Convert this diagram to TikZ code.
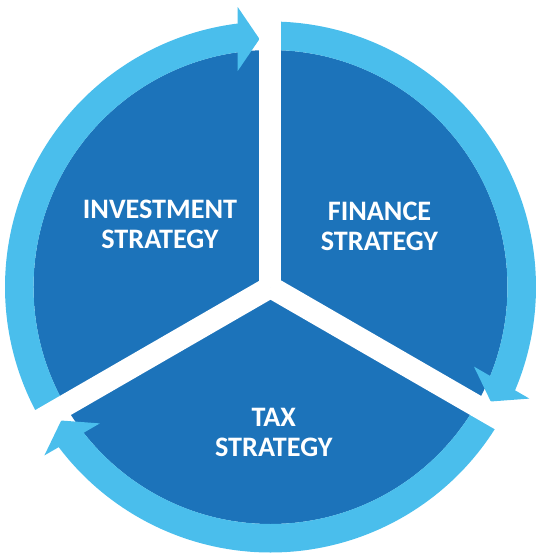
\documentclass[tikz,border=0pt]{standalone}
\usepackage{fontspec}
\setmainfont{Carlito}
\definecolor{darkblue}{RGB}{28,115,186}
\definecolor{lightblue}{RGB}{74,190,236}
\tikzset{
  label text/.style={text=white, font=\bfseries\fontsize{28.2}{30}\selectfont, align=center, inner sep=0pt},
  ring arc/.style={draw=lightblue, line width=28.5pt},
  gap band/.style={draw=white, line width=22pt},
  arrow head/.style={fill=lightblue}
}
\begin{document}
\begin{tikzpicture}[x=1pt,y=1pt]
\useasboundingbox (-270.5,-271) rectangle (270.5,287);
% dark disk
\fill[darkblue] (0,0) circle[radius=237];
% three ring arrows
\foreach \r in {0,-120,-240}{
  \begin{scope}[rotate=\r]
    \draw[ring arc] (210:251.25) arc[start angle=210, end angle=96, radius=251.25];
    \fill[arrow head] (-11,248) -- (-32.8,280) -- (-32.8,216) -- cycle;
  \end{scope}
}
% white gaps
\coordinate (c) at (0,0);
\coordinate (g1) at (90:272);
\coordinate (g2) at (-30:272);
\coordinate (g3) at (210:272);
\draw[gap band] (c) -- (g1);
\draw[gap band] (c) -- (g2);
\draw[gap band] (c) -- (g3);
% labels
\node[label text] (inv) at (-110.5,62.6) {INVESTMENT\\STRATEGY};
\node[label text] (fin) at (109,61) {FINANCE\\STRATEGY};
\node[label text] (tax) at (3.3,-145.5) {TAX\\STRATEGY};
\end{tikzpicture}
\end{document}
